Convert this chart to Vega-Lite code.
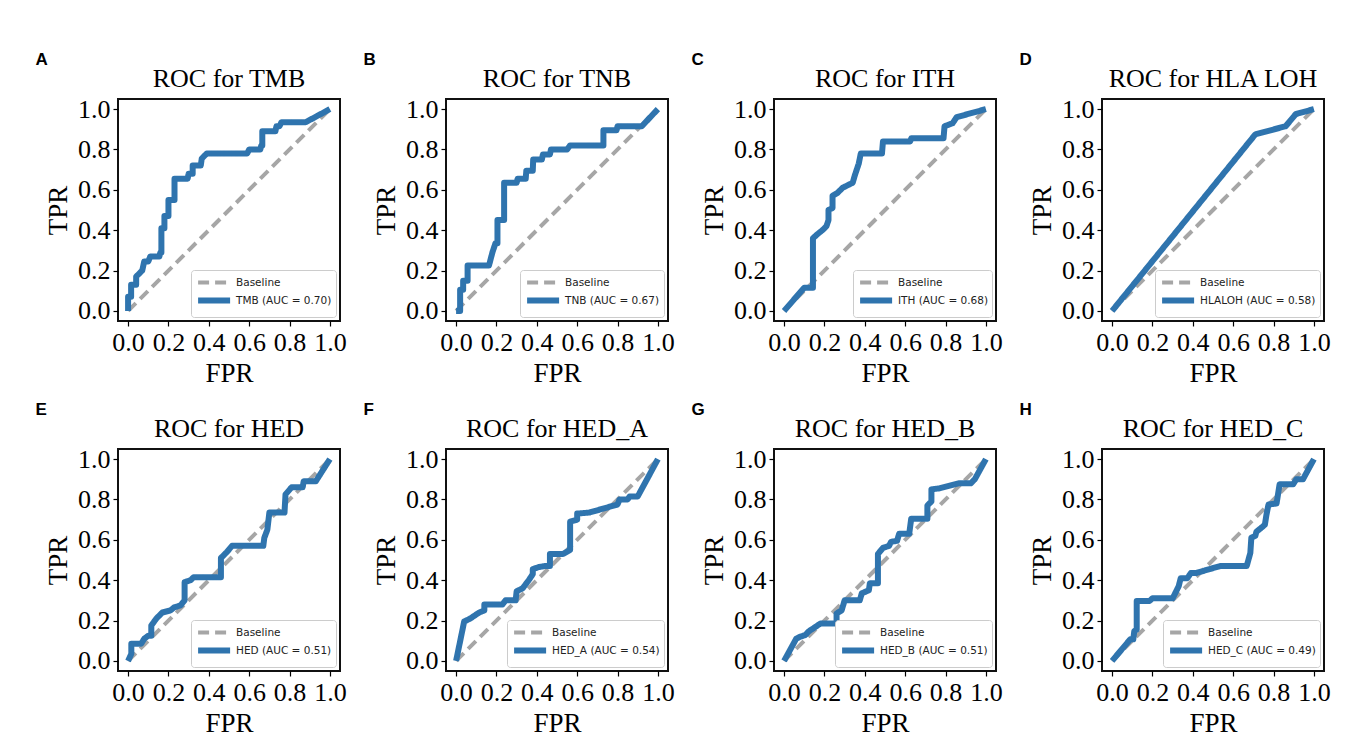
{
"$schema": "https://vega.github.io/schema/vega-lite/v6.json",
"background": "white",
"padding": {"left": 35, "top": 51, "right": 0, "bottom": 0},
"datasets": {
"A": [
{"s":"Baseline","i":0,"fpr":0,"tpr":0},{"s":"Baseline","i":1,"fpr":1,"tpr":1},
{"s":"TMB (AUC = 0.70)","i":0,"fpr":0,"tpr":0},{"s":"TMB (AUC = 0.70)","i":1,"fpr":0,"tpr":0.07},{"s":"TMB (AUC = 0.70)","i":2,"fpr":0.015,"tpr":0.07},{"s":"TMB (AUC = 0.70)","i":3,"fpr":0.015,"tpr":0.13},{"s":"TMB (AUC = 0.70)","i":4,"fpr":0.04,"tpr":0.13},{"s":"TMB (AUC = 0.70)","i":5,"fpr":0.04,"tpr":0.17},{"s":"TMB (AUC = 0.70)","i":6,"fpr":0.07,"tpr":0.2},{"s":"TMB (AUC = 0.70)","i":7,"fpr":0.08,"tpr":0.245},{"s":"TMB (AUC = 0.70)","i":8,"fpr":0.1,"tpr":0.245},{"s":"TMB (AUC = 0.70)","i":9,"fpr":0.11,"tpr":0.27},{"s":"TMB (AUC = 0.70)","i":10,"fpr":0.155,"tpr":0.27},{"s":"TMB (AUC = 0.70)","i":11,"fpr":0.16,"tpr":0.29},{"s":"TMB (AUC = 0.70)","i":12,"fpr":0.165,"tpr":0.29},{"s":"TMB (AUC = 0.70)","i":13,"fpr":0.165,"tpr":0.41},{"s":"TMB (AUC = 0.70)","i":14,"fpr":0.18,"tpr":0.41},{"s":"TMB (AUC = 0.70)","i":15,"fpr":0.18,"tpr":0.47},{"s":"TMB (AUC = 0.70)","i":16,"fpr":0.2,"tpr":0.47},{"s":"TMB (AUC = 0.70)","i":17,"fpr":0.2,"tpr":0.55},{"s":"TMB (AUC = 0.70)","i":18,"fpr":0.23,"tpr":0.55},{"s":"TMB (AUC = 0.70)","i":19,"fpr":0.23,"tpr":0.655},{"s":"TMB (AUC = 0.70)","i":20,"fpr":0.295,"tpr":0.655},{"s":"TMB (AUC = 0.70)","i":21,"fpr":0.3,"tpr":0.68},{"s":"TMB (AUC = 0.70)","i":22,"fpr":0.32,"tpr":0.68},{"s":"TMB (AUC = 0.70)","i":23,"fpr":0.32,"tpr":0.72},{"s":"TMB (AUC = 0.70)","i":24,"fpr":0.36,"tpr":0.72},{"s":"TMB (AUC = 0.70)","i":25,"fpr":0.365,"tpr":0.755},{"s":"TMB (AUC = 0.70)","i":26,"fpr":0.39,"tpr":0.78},{"s":"TMB (AUC = 0.70)","i":27,"fpr":0.59,"tpr":0.78},{"s":"TMB (AUC = 0.70)","i":28,"fpr":0.6,"tpr":0.8},{"s":"TMB (AUC = 0.70)","i":29,"fpr":0.655,"tpr":0.8},{"s":"TMB (AUC = 0.70)","i":30,"fpr":0.66,"tpr":0.82},{"s":"TMB (AUC = 0.70)","i":31,"fpr":0.665,"tpr":0.82},{"s":"TMB (AUC = 0.70)","i":32,"fpr":0.665,"tpr":0.89},{"s":"TMB (AUC = 0.70)","i":33,"fpr":0.73,"tpr":0.89},{"s":"TMB (AUC = 0.70)","i":34,"fpr":0.735,"tpr":0.915},{"s":"TMB (AUC = 0.70)","i":35,"fpr":0.75,"tpr":0.915},{"s":"TMB (AUC = 0.70)","i":36,"fpr":0.76,"tpr":0.935},{"s":"TMB (AUC = 0.70)","i":37,"fpr":0.88,"tpr":0.935},{"s":"TMB (AUC = 0.70)","i":38,"fpr":1,"tpr":1}
],
"B": [
{"s":"Baseline","i":0,"fpr":0,"tpr":0},{"s":"Baseline","i":1,"fpr":1,"tpr":1},
{"s":"TNB (AUC = 0.67)","i":0,"fpr":0,"tpr":0},{"s":"TNB (AUC = 0.67)","i":1,"fpr":0.02,"tpr":0},{"s":"TNB (AUC = 0.67)","i":2,"fpr":0.02,"tpr":0.105},{"s":"TNB (AUC = 0.67)","i":3,"fpr":0.035,"tpr":0.105},{"s":"TNB (AUC = 0.67)","i":4,"fpr":0.035,"tpr":0.15},{"s":"TNB (AUC = 0.67)","i":5,"fpr":0.057,"tpr":0.15},{"s":"TNB (AUC = 0.67)","i":6,"fpr":0.057,"tpr":0.225},{"s":"TNB (AUC = 0.67)","i":7,"fpr":0.163,"tpr":0.225},{"s":"TNB (AUC = 0.67)","i":8,"fpr":0.18,"tpr":0.29},{"s":"TNB (AUC = 0.67)","i":9,"fpr":0.195,"tpr":0.335},{"s":"TNB (AUC = 0.67)","i":10,"fpr":0.205,"tpr":0.335},{"s":"TNB (AUC = 0.67)","i":11,"fpr":0.205,"tpr":0.45},{"s":"TNB (AUC = 0.67)","i":12,"fpr":0.238,"tpr":0.45},{"s":"TNB (AUC = 0.67)","i":13,"fpr":0.238,"tpr":0.635},{"s":"TNB (AUC = 0.67)","i":14,"fpr":0.3,"tpr":0.635},{"s":"TNB (AUC = 0.67)","i":15,"fpr":0.305,"tpr":0.655},{"s":"TNB (AUC = 0.67)","i":16,"fpr":0.345,"tpr":0.655},{"s":"TNB (AUC = 0.67)","i":17,"fpr":0.348,"tpr":0.695},{"s":"TNB (AUC = 0.67)","i":18,"fpr":0.38,"tpr":0.695},{"s":"TNB (AUC = 0.67)","i":19,"fpr":0.382,"tpr":0.75},{"s":"TNB (AUC = 0.67)","i":20,"fpr":0.425,"tpr":0.75},{"s":"TNB (AUC = 0.67)","i":21,"fpr":0.43,"tpr":0.775},{"s":"TNB (AUC = 0.67)","i":22,"fpr":0.465,"tpr":0.775},{"s":"TNB (AUC = 0.67)","i":23,"fpr":0.47,"tpr":0.8},{"s":"TNB (AUC = 0.67)","i":24,"fpr":0.55,"tpr":0.8},{"s":"TNB (AUC = 0.67)","i":25,"fpr":0.565,"tpr":0.82},{"s":"TNB (AUC = 0.67)","i":26,"fpr":0.73,"tpr":0.82},{"s":"TNB (AUC = 0.67)","i":27,"fpr":0.73,"tpr":0.895},{"s":"TNB (AUC = 0.67)","i":28,"fpr":0.795,"tpr":0.895},{"s":"TNB (AUC = 0.67)","i":29,"fpr":0.8,"tpr":0.915},{"s":"TNB (AUC = 0.67)","i":30,"fpr":0.92,"tpr":0.915},{"s":"TNB (AUC = 0.67)","i":31,"fpr":1,"tpr":1}
],
"C": [
{"s":"Baseline","i":0,"fpr":0,"tpr":0},{"s":"Baseline","i":1,"fpr":1,"tpr":1},
{"s":"ITH (AUC = 0.68)","i":0,"fpr":0,"tpr":0},{"s":"ITH (AUC = 0.68)","i":1,"fpr":0.1,"tpr":0.115},{"s":"ITH (AUC = 0.68)","i":2,"fpr":0.143,"tpr":0.115},{"s":"ITH (AUC = 0.68)","i":3,"fpr":0.143,"tpr":0.36},{"s":"ITH (AUC = 0.68)","i":4,"fpr":0.165,"tpr":0.38},{"s":"ITH (AUC = 0.68)","i":5,"fpr":0.19,"tpr":0.4},{"s":"ITH (AUC = 0.68)","i":6,"fpr":0.21,"tpr":0.42},{"s":"ITH (AUC = 0.68)","i":7,"fpr":0.22,"tpr":0.45},{"s":"ITH (AUC = 0.68)","i":8,"fpr":0.22,"tpr":0.5},{"s":"ITH (AUC = 0.68)","i":9,"fpr":0.24,"tpr":0.51},{"s":"ITH (AUC = 0.68)","i":10,"fpr":0.24,"tpr":0.57},{"s":"ITH (AUC = 0.68)","i":11,"fpr":0.265,"tpr":0.585},{"s":"ITH (AUC = 0.68)","i":12,"fpr":0.29,"tpr":0.61},{"s":"ITH (AUC = 0.68)","i":13,"fpr":0.34,"tpr":0.635},{"s":"ITH (AUC = 0.68)","i":14,"fpr":0.35,"tpr":0.67},{"s":"ITH (AUC = 0.68)","i":15,"fpr":0.37,"tpr":0.73},{"s":"ITH (AUC = 0.68)","i":16,"fpr":0.38,"tpr":0.78},{"s":"ITH (AUC = 0.68)","i":17,"fpr":0.485,"tpr":0.78},{"s":"ITH (AUC = 0.68)","i":18,"fpr":0.49,"tpr":0.84},{"s":"ITH (AUC = 0.68)","i":19,"fpr":0.625,"tpr":0.84},{"s":"ITH (AUC = 0.68)","i":20,"fpr":0.63,"tpr":0.855},{"s":"ITH (AUC = 0.68)","i":21,"fpr":0.79,"tpr":0.855},{"s":"ITH (AUC = 0.68)","i":22,"fpr":0.795,"tpr":0.915},{"s":"ITH (AUC = 0.68)","i":23,"fpr":0.835,"tpr":0.93},{"s":"ITH (AUC = 0.68)","i":24,"fpr":0.855,"tpr":0.96},{"s":"ITH (AUC = 0.68)","i":25,"fpr":1,"tpr":1}
],
"D": [
{"s":"Baseline","i":0,"fpr":0,"tpr":0},{"s":"Baseline","i":1,"fpr":1,"tpr":1},
{"s":"HLALOH (AUC = 0.58)","i":0,"fpr":0,"tpr":0},{"s":"HLALOH (AUC = 0.58)","i":1,"fpr":0.71,"tpr":0.875},{"s":"HLALOH (AUC = 0.58)","i":2,"fpr":0.86,"tpr":0.915},{"s":"HLALOH (AUC = 0.58)","i":3,"fpr":0.91,"tpr":0.975},{"s":"HLALOH (AUC = 0.58)","i":4,"fpr":1,"tpr":1}
],
"E": [
{"s":"Baseline","i":0,"fpr":0,"tpr":0},{"s":"Baseline","i":1,"fpr":1,"tpr":1},
{"s":"HED (AUC = 0.51)","i":0,"fpr":0,"tpr":0},{"s":"HED (AUC = 0.51)","i":1,"fpr":0.016,"tpr":0.035},{"s":"HED (AUC = 0.51)","i":2,"fpr":0.016,"tpr":0.085},{"s":"HED (AUC = 0.51)","i":3,"fpr":0.065,"tpr":0.085},{"s":"HED (AUC = 0.51)","i":4,"fpr":0.08,"tpr":0.11},{"s":"HED (AUC = 0.51)","i":5,"fpr":0.1,"tpr":0.125},{"s":"HED (AUC = 0.51)","i":6,"fpr":0.115,"tpr":0.125},{"s":"HED (AUC = 0.51)","i":7,"fpr":0.115,"tpr":0.175},{"s":"HED (AUC = 0.51)","i":8,"fpr":0.14,"tpr":0.21},{"s":"HED (AUC = 0.51)","i":9,"fpr":0.17,"tpr":0.24},{"s":"HED (AUC = 0.51)","i":10,"fpr":0.21,"tpr":0.25},{"s":"HED (AUC = 0.51)","i":11,"fpr":0.228,"tpr":0.265},{"s":"HED (AUC = 0.51)","i":12,"fpr":0.26,"tpr":0.275},{"s":"HED (AUC = 0.51)","i":13,"fpr":0.28,"tpr":0.3},{"s":"HED (AUC = 0.51)","i":14,"fpr":0.28,"tpr":0.39},{"s":"HED (AUC = 0.51)","i":15,"fpr":0.31,"tpr":0.4},{"s":"HED (AUC = 0.51)","i":16,"fpr":0.325,"tpr":0.415},{"s":"HED (AUC = 0.51)","i":17,"fpr":0.46,"tpr":0.415},{"s":"HED (AUC = 0.51)","i":18,"fpr":0.46,"tpr":0.51},{"s":"HED (AUC = 0.51)","i":19,"fpr":0.49,"tpr":0.54},{"s":"HED (AUC = 0.51)","i":20,"fpr":0.515,"tpr":0.57},{"s":"HED (AUC = 0.51)","i":21,"fpr":0.67,"tpr":0.57},{"s":"HED (AUC = 0.51)","i":22,"fpr":0.675,"tpr":0.61},{"s":"HED (AUC = 0.51)","i":23,"fpr":0.69,"tpr":0.65},{"s":"HED (AUC = 0.51)","i":24,"fpr":0.7,"tpr":0.735},{"s":"HED (AUC = 0.51)","i":25,"fpr":0.775,"tpr":0.735},{"s":"HED (AUC = 0.51)","i":26,"fpr":0.78,"tpr":0.825},{"s":"HED (AUC = 0.51)","i":27,"fpr":0.81,"tpr":0.86},{"s":"HED (AUC = 0.51)","i":28,"fpr":0.865,"tpr":0.86},{"s":"HED (AUC = 0.51)","i":29,"fpr":0.87,"tpr":0.89},{"s":"HED (AUC = 0.51)","i":30,"fpr":0.93,"tpr":0.89},{"s":"HED (AUC = 0.51)","i":31,"fpr":1,"tpr":1}
],
"F": [
{"s":"Baseline","i":0,"fpr":0,"tpr":0},{"s":"Baseline","i":1,"fpr":1,"tpr":1},
{"s":"HED_A (AUC = 0.54)","i":0,"fpr":0,"tpr":0},{"s":"HED_A (AUC = 0.54)","i":1,"fpr":0.04,"tpr":0.195},{"s":"HED_A (AUC = 0.54)","i":2,"fpr":0.07,"tpr":0.21},{"s":"HED_A (AUC = 0.54)","i":3,"fpr":0.115,"tpr":0.24},{"s":"HED_A (AUC = 0.54)","i":4,"fpr":0.14,"tpr":0.25},{"s":"HED_A (AUC = 0.54)","i":5,"fpr":0.14,"tpr":0.28},{"s":"HED_A (AUC = 0.54)","i":6,"fpr":0.23,"tpr":0.28},{"s":"HED_A (AUC = 0.54)","i":7,"fpr":0.245,"tpr":0.3},{"s":"HED_A (AUC = 0.54)","i":8,"fpr":0.295,"tpr":0.3},{"s":"HED_A (AUC = 0.54)","i":9,"fpr":0.3,"tpr":0.345},{"s":"HED_A (AUC = 0.54)","i":10,"fpr":0.33,"tpr":0.36},{"s":"HED_A (AUC = 0.54)","i":11,"fpr":0.36,"tpr":0.4},{"s":"HED_A (AUC = 0.54)","i":12,"fpr":0.38,"tpr":0.43},{"s":"HED_A (AUC = 0.54)","i":13,"fpr":0.38,"tpr":0.455},{"s":"HED_A (AUC = 0.54)","i":14,"fpr":0.41,"tpr":0.465},{"s":"HED_A (AUC = 0.54)","i":15,"fpr":0.44,"tpr":0.47},{"s":"HED_A (AUC = 0.54)","i":16,"fpr":0.465,"tpr":0.47},{"s":"HED_A (AUC = 0.54)","i":17,"fpr":0.465,"tpr":0.53},{"s":"HED_A (AUC = 0.54)","i":18,"fpr":0.53,"tpr":0.53},{"s":"HED_A (AUC = 0.54)","i":19,"fpr":0.565,"tpr":0.55},{"s":"HED_A (AUC = 0.54)","i":20,"fpr":0.565,"tpr":0.69},{"s":"HED_A (AUC = 0.54)","i":21,"fpr":0.6,"tpr":0.7},{"s":"HED_A (AUC = 0.54)","i":22,"fpr":0.6,"tpr":0.73},{"s":"HED_A (AUC = 0.54)","i":23,"fpr":0.66,"tpr":0.735},{"s":"HED_A (AUC = 0.54)","i":24,"fpr":0.8,"tpr":0.775},{"s":"HED_A (AUC = 0.54)","i":25,"fpr":0.81,"tpr":0.8},{"s":"HED_A (AUC = 0.54)","i":26,"fpr":0.85,"tpr":0.8},{"s":"HED_A (AUC = 0.54)","i":27,"fpr":0.86,"tpr":0.815},{"s":"HED_A (AUC = 0.54)","i":28,"fpr":0.9,"tpr":0.815},{"s":"HED_A (AUC = 0.54)","i":29,"fpr":1,"tpr":1}
],
"G": [
{"s":"Baseline","i":0,"fpr":0,"tpr":0},{"s":"Baseline","i":1,"fpr":1,"tpr":1},
{"s":"HED_B (AUC = 0.51)","i":0,"fpr":0,"tpr":0},{"s":"HED_B (AUC = 0.51)","i":1,"fpr":0.06,"tpr":0.11},{"s":"HED_B (AUC = 0.51)","i":2,"fpr":0.08,"tpr":0.12},{"s":"HED_B (AUC = 0.51)","i":3,"fpr":0.105,"tpr":0.128},{"s":"HED_B (AUC = 0.51)","i":4,"fpr":0.12,"tpr":0.145},{"s":"HED_B (AUC = 0.51)","i":5,"fpr":0.18,"tpr":0.185},{"s":"HED_B (AUC = 0.51)","i":6,"fpr":0.26,"tpr":0.185},{"s":"HED_B (AUC = 0.51)","i":7,"fpr":0.26,"tpr":0.235},{"s":"HED_B (AUC = 0.51)","i":8,"fpr":0.285,"tpr":0.25},{"s":"HED_B (AUC = 0.51)","i":9,"fpr":0.3,"tpr":0.3},{"s":"HED_B (AUC = 0.51)","i":10,"fpr":0.375,"tpr":0.3},{"s":"HED_B (AUC = 0.51)","i":11,"fpr":0.385,"tpr":0.335},{"s":"HED_B (AUC = 0.51)","i":12,"fpr":0.42,"tpr":0.35},{"s":"HED_B (AUC = 0.51)","i":13,"fpr":0.425,"tpr":0.385},{"s":"HED_B (AUC = 0.51)","i":14,"fpr":0.465,"tpr":0.385},{"s":"HED_B (AUC = 0.51)","i":15,"fpr":0.465,"tpr":0.53},{"s":"HED_B (AUC = 0.51)","i":16,"fpr":0.49,"tpr":0.56},{"s":"HED_B (AUC = 0.51)","i":17,"fpr":0.52,"tpr":0.57},{"s":"HED_B (AUC = 0.51)","i":18,"fpr":0.53,"tpr":0.59},{"s":"HED_B (AUC = 0.51)","i":19,"fpr":0.56,"tpr":0.595},{"s":"HED_B (AUC = 0.51)","i":20,"fpr":0.57,"tpr":0.63},{"s":"HED_B (AUC = 0.51)","i":21,"fpr":0.62,"tpr":0.63},{"s":"HED_B (AUC = 0.51)","i":22,"fpr":0.63,"tpr":0.705},{"s":"HED_B (AUC = 0.51)","i":23,"fpr":0.71,"tpr":0.705},{"s":"HED_B (AUC = 0.51)","i":24,"fpr":0.71,"tpr":0.77},{"s":"HED_B (AUC = 0.51)","i":25,"fpr":0.73,"tpr":0.79},{"s":"HED_B (AUC = 0.51)","i":26,"fpr":0.73,"tpr":0.85},{"s":"HED_B (AUC = 0.51)","i":27,"fpr":0.77,"tpr":0.855},{"s":"HED_B (AUC = 0.51)","i":28,"fpr":0.865,"tpr":0.88},{"s":"HED_B (AUC = 0.51)","i":29,"fpr":0.925,"tpr":0.88},{"s":"HED_B (AUC = 0.51)","i":30,"fpr":0.945,"tpr":0.9},{"s":"HED_B (AUC = 0.51)","i":31,"fpr":1,"tpr":1}
],
"H": [
{"s":"Baseline","i":0,"fpr":0,"tpr":0},{"s":"Baseline","i":1,"fpr":1,"tpr":1},
{"s":"HED_C (AUC = 0.49)","i":0,"fpr":0,"tpr":0},{"s":"HED_C (AUC = 0.49)","i":1,"fpr":0.09,"tpr":0.107},{"s":"HED_C (AUC = 0.49)","i":2,"fpr":0.105,"tpr":0.107},{"s":"HED_C (AUC = 0.49)","i":3,"fpr":0.11,"tpr":0.148},{"s":"HED_C (AUC = 0.49)","i":4,"fpr":0.122,"tpr":0.155},{"s":"HED_C (AUC = 0.49)","i":5,"fpr":0.122,"tpr":0.297},{"s":"HED_C (AUC = 0.49)","i":6,"fpr":0.185,"tpr":0.297},{"s":"HED_C (AUC = 0.49)","i":7,"fpr":0.2,"tpr":0.31},{"s":"HED_C (AUC = 0.49)","i":8,"fpr":0.3,"tpr":0.31},{"s":"HED_C (AUC = 0.49)","i":9,"fpr":0.33,"tpr":0.37},{"s":"HED_C (AUC = 0.49)","i":10,"fpr":0.34,"tpr":0.41},{"s":"HED_C (AUC = 0.49)","i":11,"fpr":0.373,"tpr":0.41},{"s":"HED_C (AUC = 0.49)","i":12,"fpr":0.39,"tpr":0.435},{"s":"HED_C (AUC = 0.49)","i":13,"fpr":0.415,"tpr":0.435},{"s":"HED_C (AUC = 0.49)","i":14,"fpr":0.535,"tpr":0.47},{"s":"HED_C (AUC = 0.49)","i":15,"fpr":0.667,"tpr":0.47},{"s":"HED_C (AUC = 0.49)","i":16,"fpr":0.685,"tpr":0.535},{"s":"HED_C (AUC = 0.49)","i":17,"fpr":0.69,"tpr":0.61},{"s":"HED_C (AUC = 0.49)","i":18,"fpr":0.71,"tpr":0.62},{"s":"HED_C (AUC = 0.49)","i":19,"fpr":0.715,"tpr":0.64},{"s":"HED_C (AUC = 0.49)","i":20,"fpr":0.74,"tpr":0.66},{"s":"HED_C (AUC = 0.49)","i":21,"fpr":0.757,"tpr":0.675},{"s":"HED_C (AUC = 0.49)","i":22,"fpr":0.765,"tpr":0.725},{"s":"HED_C (AUC = 0.49)","i":23,"fpr":0.775,"tpr":0.775},{"s":"HED_C (AUC = 0.49)","i":24,"fpr":0.815,"tpr":0.78},{"s":"HED_C (AUC = 0.49)","i":25,"fpr":0.83,"tpr":0.875},{"s":"HED_C (AUC = 0.49)","i":26,"fpr":0.897,"tpr":0.875},{"s":"HED_C (AUC = 0.49)","i":27,"fpr":0.913,"tpr":0.9},{"s":"HED_C (AUC = 0.49)","i":28,"fpr":0.946,"tpr":0.9},{"s":"HED_C (AUC = 0.49)","i":29,"fpr":1,"tpr":1}
]
},
"columns": 4,
"spacing": {"column": 15, "row": 14},
"resolve": {"scale": {"color": "independent", "strokeDash": "independent", "strokeWidth": "independent", "x": "independent", "y": "independent"}},
"concat": [
{"title": {"text": "A", "font": "Liberation Sans", "fontWeight": "bold", "fontSize": 17, "anchor": "start", "frame": "bounds", "dx": -8, "offset": -4}, "resolve": {"scale": {"color": "independent", "strokeDash": "independent", "strokeWidth": "independent"}}, "vconcat": [{"title": "ROC for TMB", "width": 222, "height": 222, "view": {"stroke": "#111111", "strokeWidth": 2}, "data": {"name": "A"}, "mark": {"type": "line", "strokeJoin": "round"},
 "encoding": {"x": {"field": "fpr", "type": "quantitative", "scale": {"domain": [-0.05, 1.05], "nice": false, "zero": false}, "axis": {"title": "FPR", "values": [0, 0.2, 0.4, 0.6, 0.8, 1], "format": ".1f"}}, "y": {"field": "tpr", "type": "quantitative", "scale": {"domain": [-0.05, 1.05], "nice": false, "zero": false}, "axis": {"title": "TPR", "values": [0, 0.2, 0.4, 0.6, 0.8, 1], "format": ".1f"}}, "order": {"field": "i", "type": "quantitative"}, "color": {"field": "s", "type": "nominal", "scale": {"range": ["#a6a6a6", "#2f74ae"]}, "legend": {"title": null}}, "strokeDash": {"field": "s", "type": "nominal", "scale": {"range": [[11, 6], [1, 0]]}, "legend": {"title": null}}, "strokeWidth": {"field": "s", "type": "nominal", "scale": {"type": "ordinal", "range": [4, 6]}, "legend": {"title": null}}}}]},
{"title": {"text": "B", "font": "Liberation Sans", "fontWeight": "bold", "fontSize": 17, "anchor": "start", "frame": "bounds", "dx": -8, "offset": -4}, "resolve": {"scale": {"color": "independent", "strokeDash": "independent", "strokeWidth": "independent"}}, "vconcat": [{"title": "ROC for TNB", "width": 222, "height": 222, "view": {"stroke": "#111111", "strokeWidth": 2}, "data": {"name": "B"}, "mark": {"type": "line", "strokeJoin": "round"},
 "encoding": {"x": {"field": "fpr", "type": "quantitative", "scale": {"domain": [-0.05, 1.05], "nice": false, "zero": false}, "axis": {"title": "FPR", "values": [0, 0.2, 0.4, 0.6, 0.8, 1], "format": ".1f"}}, "y": {"field": "tpr", "type": "quantitative", "scale": {"domain": [-0.05, 1.05], "nice": false, "zero": false}, "axis": {"title": "TPR", "values": [0, 0.2, 0.4, 0.6, 0.8, 1], "format": ".1f"}}, "order": {"field": "i", "type": "quantitative"}, "color": {"field": "s", "type": "nominal", "scale": {"range": ["#a6a6a6", "#2f74ae"]}, "legend": {"title": null}}, "strokeDash": {"field": "s", "type": "nominal", "scale": {"range": [[11, 6], [1, 0]]}, "legend": {"title": null}}, "strokeWidth": {"field": "s", "type": "nominal", "scale": {"type": "ordinal", "range": [4, 6]}, "legend": {"title": null}}}}]},
{"title": {"text": "C", "font": "Liberation Sans", "fontWeight": "bold", "fontSize": 17, "anchor": "start", "frame": "bounds", "dx": -8, "offset": -4}, "resolve": {"scale": {"color": "independent", "strokeDash": "independent", "strokeWidth": "independent"}}, "vconcat": [{"title": "ROC for ITH", "width": 222, "height": 222, "view": {"stroke": "#111111", "strokeWidth": 2}, "data": {"name": "C"}, "mark": {"type": "line", "strokeJoin": "round"},
 "encoding": {"x": {"field": "fpr", "type": "quantitative", "scale": {"domain": [-0.05, 1.05], "nice": false, "zero": false}, "axis": {"title": "FPR", "values": [0, 0.2, 0.4, 0.6, 0.8, 1], "format": ".1f"}}, "y": {"field": "tpr", "type": "quantitative", "scale": {"domain": [-0.05, 1.05], "nice": false, "zero": false}, "axis": {"title": "TPR", "values": [0, 0.2, 0.4, 0.6, 0.8, 1], "format": ".1f"}}, "order": {"field": "i", "type": "quantitative"}, "color": {"field": "s", "type": "nominal", "scale": {"range": ["#a6a6a6", "#2f74ae"]}, "legend": {"title": null}}, "strokeDash": {"field": "s", "type": "nominal", "scale": {"range": [[11, 6], [1, 0]]}, "legend": {"title": null}}, "strokeWidth": {"field": "s", "type": "nominal", "scale": {"type": "ordinal", "range": [4, 6]}, "legend": {"title": null}}}}]},
{"title": {"text": "D", "font": "Liberation Sans", "fontWeight": "bold", "fontSize": 17, "anchor": "start", "frame": "bounds", "dx": -8, "offset": -4}, "resolve": {"scale": {"color": "independent", "strokeDash": "independent", "strokeWidth": "independent"}}, "vconcat": [{"title": "ROC for HLA LOH", "width": 222, "height": 222, "view": {"stroke": "#111111", "strokeWidth": 2}, "data": {"name": "D"}, "mark": {"type": "line", "strokeJoin": "round"},
 "encoding": {"x": {"field": "fpr", "type": "quantitative", "scale": {"domain": [-0.05, 1.05], "nice": false, "zero": false}, "axis": {"title": "FPR", "values": [0, 0.2, 0.4, 0.6, 0.8, 1], "format": ".1f"}}, "y": {"field": "tpr", "type": "quantitative", "scale": {"domain": [-0.05, 1.05], "nice": false, "zero": false}, "axis": {"title": "TPR", "values": [0, 0.2, 0.4, 0.6, 0.8, 1], "format": ".1f"}}, "order": {"field": "i", "type": "quantitative"}, "color": {"field": "s", "type": "nominal", "scale": {"range": ["#a6a6a6", "#2f74ae"]}, "legend": {"title": null}}, "strokeDash": {"field": "s", "type": "nominal", "scale": {"range": [[11, 6], [1, 0]]}, "legend": {"title": null}}, "strokeWidth": {"field": "s", "type": "nominal", "scale": {"type": "ordinal", "range": [4, 6]}, "legend": {"title": null}}}}]},
{"title": {"text": "E", "font": "Liberation Sans", "fontWeight": "bold", "fontSize": 17, "anchor": "start", "frame": "bounds", "dx": -8, "offset": -4}, "resolve": {"scale": {"color": "independent", "strokeDash": "independent", "strokeWidth": "independent"}}, "vconcat": [{"title": "ROC for HED", "width": 222, "height": 222, "view": {"stroke": "#111111", "strokeWidth": 2}, "data": {"name": "E"}, "mark": {"type": "line", "strokeJoin": "round"},
 "encoding": {"x": {"field": "fpr", "type": "quantitative", "scale": {"domain": [-0.05, 1.05], "nice": false, "zero": false}, "axis": {"title": "FPR", "values": [0, 0.2, 0.4, 0.6, 0.8, 1], "format": ".1f"}}, "y": {"field": "tpr", "type": "quantitative", "scale": {"domain": [-0.05, 1.05], "nice": false, "zero": false}, "axis": {"title": "TPR", "values": [0, 0.2, 0.4, 0.6, 0.8, 1], "format": ".1f"}}, "order": {"field": "i", "type": "quantitative"}, "color": {"field": "s", "type": "nominal", "scale": {"range": ["#a6a6a6", "#2f74ae"]}, "legend": {"title": null}}, "strokeDash": {"field": "s", "type": "nominal", "scale": {"range": [[11, 6], [1, 0]]}, "legend": {"title": null}}, "strokeWidth": {"field": "s", "type": "nominal", "scale": {"type": "ordinal", "range": [4, 6]}, "legend": {"title": null}}}}]},
{"title": {"text": "F", "font": "Liberation Sans", "fontWeight": "bold", "fontSize": 17, "anchor": "start", "frame": "bounds", "dx": -8, "offset": -4}, "resolve": {"scale": {"color": "independent", "strokeDash": "independent", "strokeWidth": "independent"}}, "vconcat": [{"title": "ROC for HED_A", "width": 222, "height": 222, "view": {"stroke": "#111111", "strokeWidth": 2}, "data": {"name": "F"}, "mark": {"type": "line", "strokeJoin": "round"},
 "encoding": {"x": {"field": "fpr", "type": "quantitative", "scale": {"domain": [-0.05, 1.05], "nice": false, "zero": false}, "axis": {"title": "FPR", "values": [0, 0.2, 0.4, 0.6, 0.8, 1], "format": ".1f"}}, "y": {"field": "tpr", "type": "quantitative", "scale": {"domain": [-0.05, 1.05], "nice": false, "zero": false}, "axis": {"title": "TPR", "values": [0, 0.2, 0.4, 0.6, 0.8, 1], "format": ".1f"}}, "order": {"field": "i", "type": "quantitative"}, "color": {"field": "s", "type": "nominal", "scale": {"range": ["#a6a6a6", "#2f74ae"]}, "legend": {"title": null}}, "strokeDash": {"field": "s", "type": "nominal", "scale": {"range": [[11, 6], [1, 0]]}, "legend": {"title": null}}, "strokeWidth": {"field": "s", "type": "nominal", "scale": {"type": "ordinal", "range": [4, 6]}, "legend": {"title": null}}}}]},
{"title": {"text": "G", "font": "Liberation Sans", "fontWeight": "bold", "fontSize": 17, "anchor": "start", "frame": "bounds", "dx": -8, "offset": -4}, "resolve": {"scale": {"color": "independent", "strokeDash": "independent", "strokeWidth": "independent"}}, "vconcat": [{"title": "ROC for HED_B", "width": 222, "height": 222, "view": {"stroke": "#111111", "strokeWidth": 2}, "data": {"name": "G"}, "mark": {"type": "line", "strokeJoin": "round"},
 "encoding": {"x": {"field": "fpr", "type": "quantitative", "scale": {"domain": [-0.05, 1.05], "nice": false, "zero": false}, "axis": {"title": "FPR", "values": [0, 0.2, 0.4, 0.6, 0.8, 1], "format": ".1f"}}, "y": {"field": "tpr", "type": "quantitative", "scale": {"domain": [-0.05, 1.05], "nice": false, "zero": false}, "axis": {"title": "TPR", "values": [0, 0.2, 0.4, 0.6, 0.8, 1], "format": ".1f"}}, "order": {"field": "i", "type": "quantitative"}, "color": {"field": "s", "type": "nominal", "scale": {"range": ["#a6a6a6", "#2f74ae"]}, "legend": {"title": null}}, "strokeDash": {"field": "s", "type": "nominal", "scale": {"range": [[11, 6], [1, 0]]}, "legend": {"title": null}}, "strokeWidth": {"field": "s", "type": "nominal", "scale": {"type": "ordinal", "range": [4, 6]}, "legend": {"title": null}}}}]},
{"title": {"text": "H", "font": "Liberation Sans", "fontWeight": "bold", "fontSize": 17, "anchor": "start", "frame": "bounds", "dx": -8, "offset": -4}, "resolve": {"scale": {"color": "independent", "strokeDash": "independent", "strokeWidth": "independent"}}, "vconcat": [{"title": "ROC for HED_C", "width": 222, "height": 222, "view": {"stroke": "#111111", "strokeWidth": 2}, "data": {"name": "H"}, "mark": {"type": "line", "strokeJoin": "round"},
 "encoding": {"x": {"field": "fpr", "type": "quantitative", "scale": {"domain": [-0.05, 1.05], "nice": false, "zero": false}, "axis": {"title": "FPR", "values": [0, 0.2, 0.4, 0.6, 0.8, 1], "format": ".1f"}}, "y": {"field": "tpr", "type": "quantitative", "scale": {"domain": [-0.05, 1.05], "nice": false, "zero": false}, "axis": {"title": "TPR", "values": [0, 0.2, 0.4, 0.6, 0.8, 1], "format": ".1f"}}, "order": {"field": "i", "type": "quantitative"}, "color": {"field": "s", "type": "nominal", "scale": {"range": ["#a6a6a6", "#2f74ae"]}, "legend": {"title": null}}, "strokeDash": {"field": "s", "type": "nominal", "scale": {"range": [[11, 6], [1, 0]]}, "legend": {"title": null}}, "strokeWidth": {"field": "s", "type": "nominal", "scale": {"type": "ordinal", "range": [4, 6]}, "legend": {"title": null}}}}]}
],
"config": {
 "view": {"stroke": "#111111", "strokeWidth": 2},
 "style": {"cell": {"stroke": "#111111", "strokeWidth": 2}},
 "title": {"font": "Liberation Serif", "fontSize": 26, "fontWeight": "normal", "color": "black", "frame": "group", "anchor": "middle", "offset": 0},
 "axis": {"labelFont": "Liberation Serif", "labelFontSize": 26, "labelColor": "black", "titleFont": "Liberation Serif", "titleFontSize": 27, "titleFontWeight": "normal", "titleColor": "black", "tickColor": "black", "tickSize": 5, "tickWidth": 1.2, "domain": false, "grid": false, "labelPadding": 3, "labelOverlap": false, "labelBound": false, "labelFlush": false, "titlePadding": 5},
 "legend": {"orient": "bottom-right", "offset": 4, "fillColor": "white", "strokeColor": "#cccccc", "cornerRadius": 3, "padding": 4, "labelFont": "DejaVu Sans", "labelFontSize": 10.5, "labelColor": "#222222", "symbolType": "M-1,0L4,0", "symbolSize": 164, "labelOffset": 22, "rowPadding": -8}
}
}
